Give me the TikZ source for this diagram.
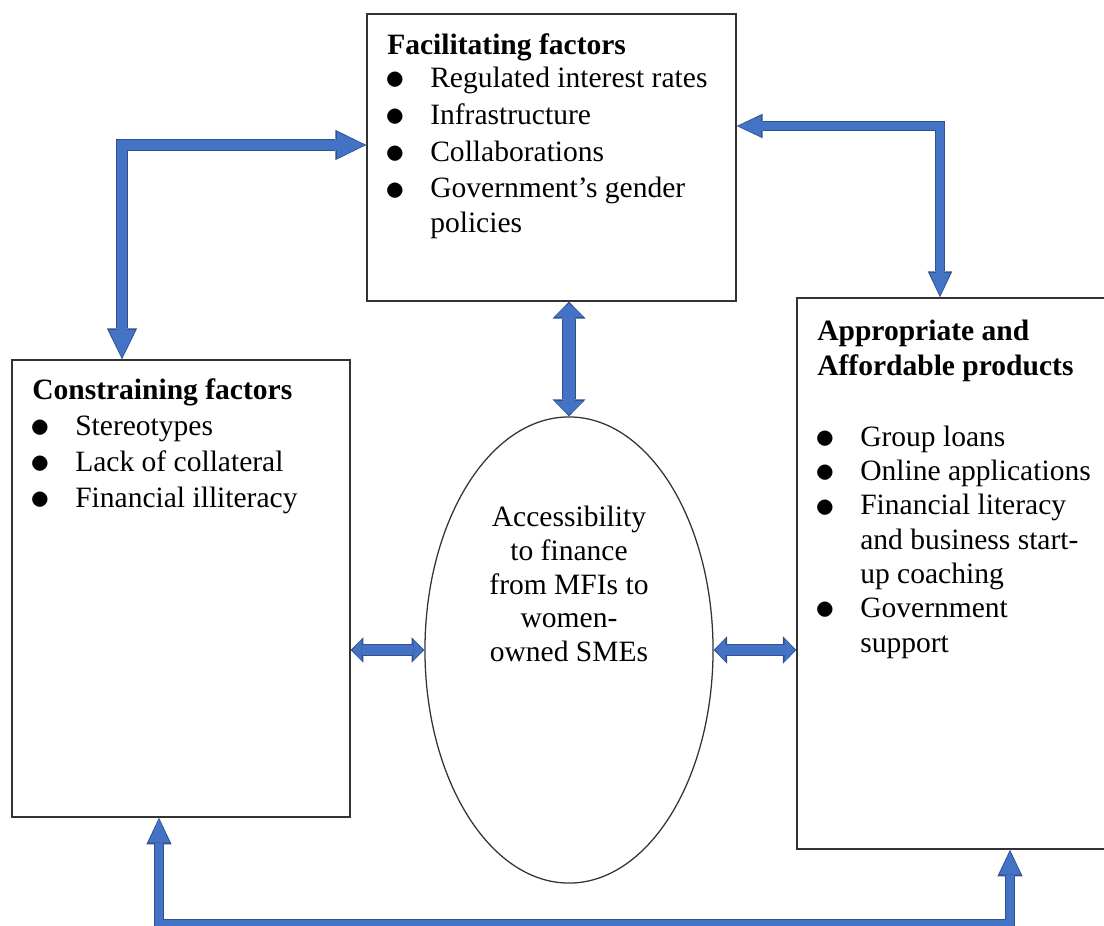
\documentclass[tikz,border=0pt]{standalone}
\usepackage{fontspec}
\setmainfont{Liberation Serif}
\usepackage{tikz}
\usetikzlibrary{positioning}
\usetikzlibrary{shapes.geometric}
\usetikzlibrary{arrows.meta}
\usepackage{xcolor}
\definecolor{arrowblue}{HTML}{4472C4}
\definecolor{arrowedge}{HTML}{2F528F}

\newcommand{\itm}[1]{\makebox[1.075cm][l]{\hspace{-1.6pt}\raisebox{-1.6pt}{\scalebox{1.35}{$\bullet$}}}#1}
\newcommand{\cont}[1]{\hspace*{1.075cm}#1}

% block arrow: dark pass, then blue pass on top
\newcommand{\blockarrow}[4]{%
  \pgfmathsetlengthmacro{\shaftin}{#1-1.4pt}%
  \pgfmathsetlengthmacro{\headin}{#2-2.8pt}%
  \pgfmathsetlengthmacro{\lenin}{#3-2.4pt}%
  \draw[arrowedge, line width=#1,
    {Triangle[width=#2, length=#3, line width=0pt]}-{Triangle[width=#2, length=#3, line width=0pt]}] #4;
  \draw[arrowblue, line width=\shaftin, shorten >=1.2pt, shorten <=1.2pt,
    {Triangle[width=\headin, length=\lenin, line width=0pt]}-{Triangle[width=\headin, length=\lenin, line width=0pt]}] #4;
}

\tikzset{
  frame/.style={draw=black!80, line width=0.9pt, inner sep=0pt},
  txt/.style={inner sep=0pt, align=left, anchor=base west},
}

\begin{document}
\begin{tikzpicture}[x=0.025cm, y=-0.025cm]
    \path[use as bounding box] (0,0) rectangle (1104,926);
    \clip (0,0) rectangle (1104,926);

    % Boxes
    \node[frame, minimum width=9.225cm, minimum height=7.175cm] (fac) at (551.5,157.5) {};
    \node[frame, minimum width=8.45cm, minimum height=11.425cm] (con) at (181,588.5) {};
    \node[frame, minimum width=7.825cm, minimum height=13.775cm] (app) at (953.5,573.5) {};
    \node[frame, ellipse, minimum width=7.2cm, minimum height=11.65cm] (acc) at (569,650) {};

    % Texts (placed at the baseline of their last line)
    \node[txt, font=\fontsize{21pt}{26.2pt}\selectfont] (factext) at (387,232)
      {\textbf{Facilitating factors}\\[-2.6pt]
       \itm{Regulated interest rates}\\
       \itm{Infrastructure}\\
       \itm{Collaborations}\\
       \itm{Government's gender}\\[-2pt]
       \cont{policies}};
    \node[txt, font=\fontsize{21pt}{25.5pt}\selectfont] (context) at (32,507)
      {\textbf{Constraining factors}\\
       \itm{Stereotypes}\\
       \itm{Lack of collateral}\\
       \itm{Financial illiteracy}};
    \node[txt, font=\fontsize{21pt}{24.4pt}\selectfont] (apptext) at (817,652)
      {\textbf{Appropriate and}\\
       \textbf{Affordable products}\\[26pt]
       \itm{Group loans}\\
       \itm{Online applications}\\
       \itm{Financial literacy}\\
       \cont{and business start-}\\
       \cont{up coaching}\\
       \itm{Government}\\
       \cont{support}};
    \node[inner sep=0pt, align=center, font=\fontsize{21pt}{24pt}\selectfont] (acctext) at (569,584)
      {Accessibility\\ to finance\\ from MFIs to\\ women-\\ owned SMEs};

    % Corners of the bent arrows
    \coordinate (tl) at (122,145);
    \coordinate (tr) at (940,126);
    \coordinate (bl) at (159,924);
    \coordinate (br) at (1010,924);

    % Arrows
    \blockarrow{8.8pt}{21.5pt}{22pt}{(tl |- con.north) -- (tl) -- (fac.west |- tl)}
    \blockarrow{7pt}{17.5pt}{18.5pt}{(fac.east |- tr) -- (tr) -- (tr |- app.north)}
    \blockarrow{10.5pt}{23.5pt}{12pt}{(acc.north |- fac.south) -- (acc.north)}
    \blockarrow{8.5pt}{18pt}{9pt}{(con.east |- acc.west) -- (acc.west)}
    \blockarrow{9pt}{19.5pt}{9.5pt}{(acc.east) -- (app.west |- acc.east)}
    \blockarrow{7.5pt}{18pt}{19pt}{(bl |- con.south) -- (bl) -- (br) -- (br |- app.south)}
\end{tikzpicture}
\end{document}
